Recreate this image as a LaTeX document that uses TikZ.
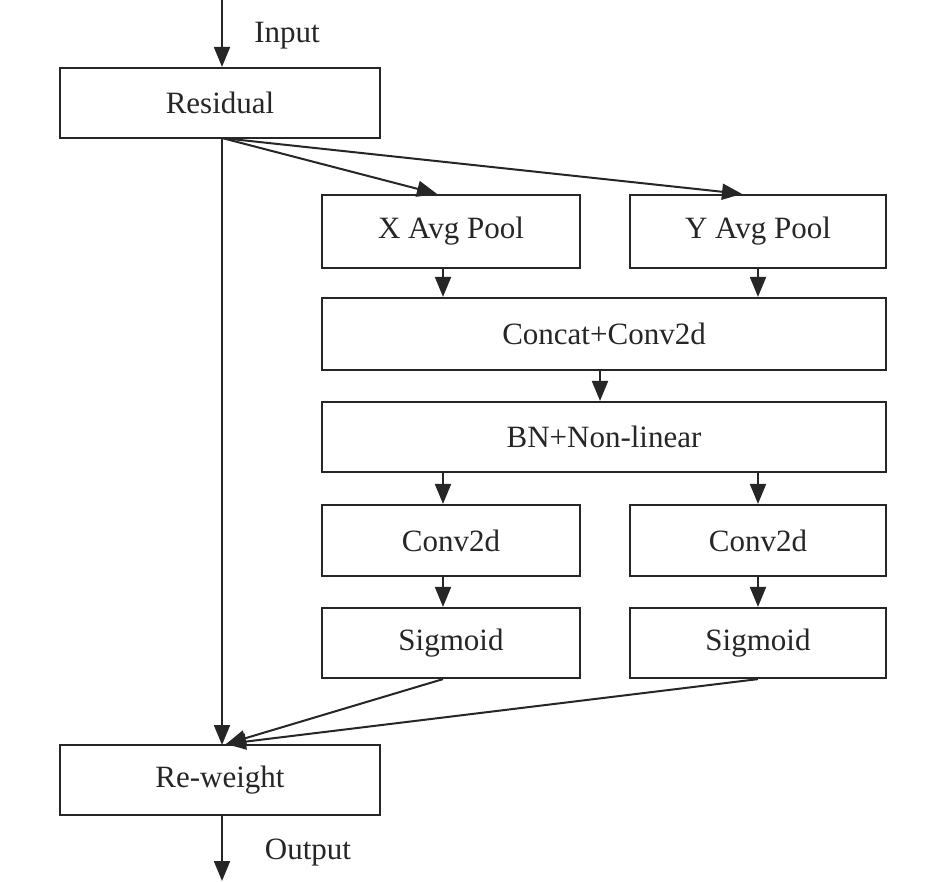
\documentclass[tikz,border=0pt]{standalone}
\usepackage{fontspec}
\setmainfont{Liberation Serif}
\usetikzlibrary{arrows.meta}
\definecolor{ink}{HTML}{262626}
\begin{document}
\begin{tikzpicture}[x=1pt,y=-1pt,
  blk/.style={draw=ink,line width=2.2pt,rectangle,inner sep=0pt,font=\fontsize{31}{36}\selectfont,text=ink},
  arr/.style={draw=ink,line width=2pt,-{Triangle[length=20pt,width=16pt]}},
  lbl/.style={font=\fontsize{31}{36}\selectfont,text=ink,inner sep=0pt}]
\useasboundingbox[fill=white] (0,0) rectangle (945,881);
\node[blk,minimum width=320pt,minimum height=70pt] (res) at (220,103) {Residual};
\node[blk,minimum width=258pt,minimum height=73pt] (xp) at (451,231.5) {X Avg Pool};
\node[blk,minimum width=256pt,minimum height=73pt] (yp) at (758,231.5) {Y Avg Pool};
\node[blk,minimum width=564pt,minimum height=72pt] (cc) at (604,334) {Concat+Conv2d};
\node[blk,minimum width=564pt,minimum height=70pt] (bn) at (604,437) {BN+Non-linear};
\node[blk,minimum width=258pt,minimum height=71pt] (c1) at (451,540.5) {Conv2d};
\node[blk,minimum width=256pt,minimum height=71pt] (c2) at (758,540.5) {Conv2d};
\node[blk,minimum width=258pt,minimum height=70pt] (s1) at (451,643) {Sigmoid};
\node[blk,minimum width=256pt,minimum height=70pt] (s2) at (758,643) {Sigmoid};
\node[blk,minimum width=320pt,minimum height=70pt] (rw) at (220,780) {Re-weight};
\node[lbl] (inl) at (287,36) {Input};
\node[lbl] (outl) at (308,853) {Output};
\coordinate (top) at (222,0);
\coordinate (bot) at (222,881);
\coordinate (rs) at (222,138);
\coordinate (rwin) at (222,745);
\coordinate (rwin2) at (226,744);
% input / output
\draw[arr] (top) -- (rwin |- res.north);
\draw[arr] (rw.south -| bot) -- (bot);
% residual branches
\draw[arr] (rs) -- ([xshift=-14pt]xp.north);
\draw[arr] (rs) -- ([xshift=-16pt]yp.north);
\draw[arr] (rs) -- (rwin);
% vertical chain
\draw[arr] ([xshift=-8pt]xp.south) -- ([xshift=-8pt]xp.south |- cc.north);
\draw[arr] (yp.south) -- (yp.south |- cc.north);
\draw[arr] ([xshift=-4pt]cc.south) -- ([xshift=-4pt]bn.north);
\draw[arr] ([xshift=-8pt]bn.south -| c1) -- ([xshift=-8pt]c1.north);
\draw[arr] (bn.south -| c2) -- (c2.north);
\draw[arr] ([xshift=-8pt]c1.south) -- ([xshift=-8pt]s1.north);
\draw[arr] (c2.south) -- (s2.north);
% sigmoid to re-weight
\draw[arr] ([xshift=-8pt]s1.south) -- (rwin2);
\draw[arr] (s2.south) -- (rwin2);
\end{tikzpicture}
\end{document}
